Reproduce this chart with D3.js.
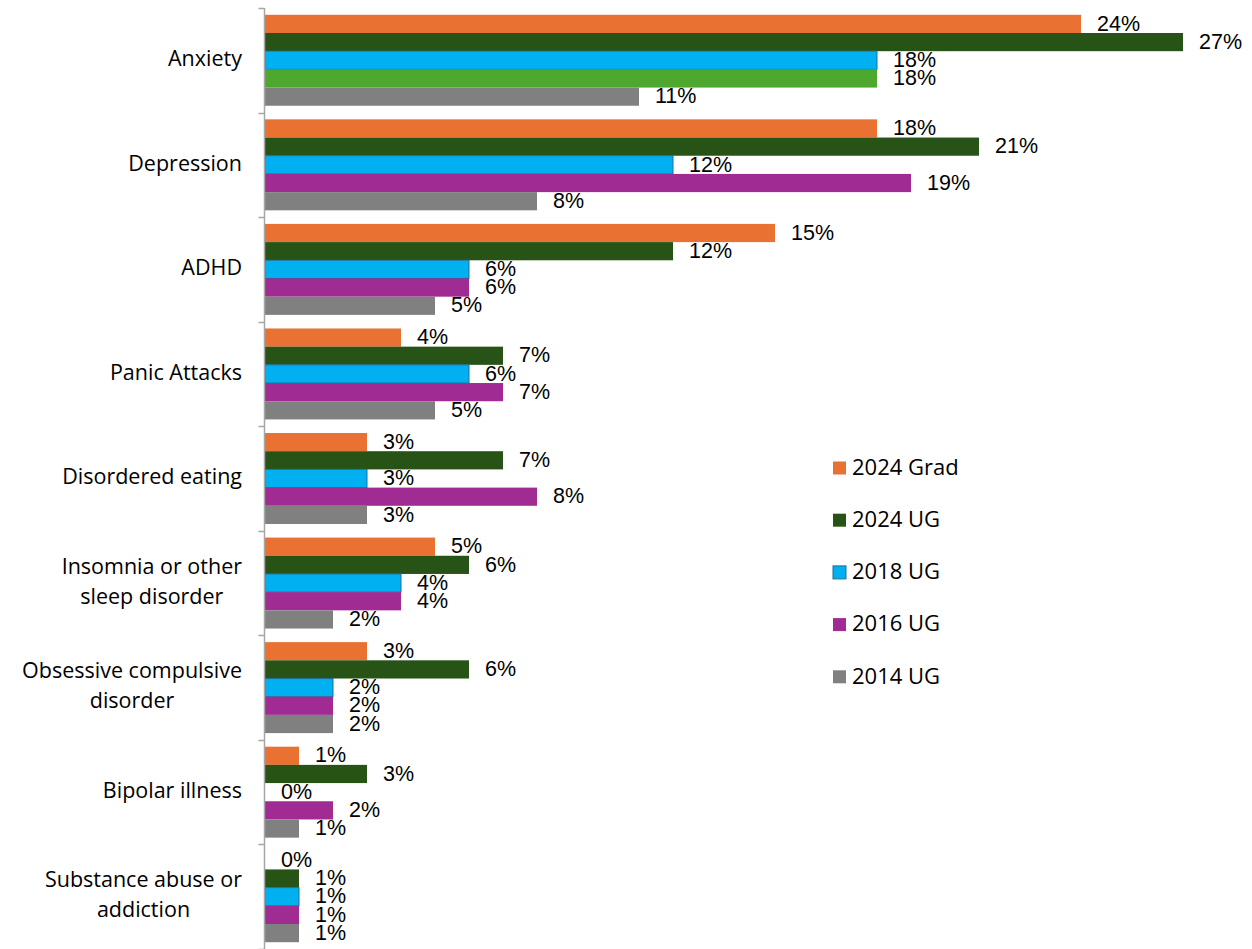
<!DOCTYPE html>
<html>
<head>
<meta charset="utf-8">
<script src="https://cdn.jsdelivr.net/npm/d3@7"></script>
<style>
  html, body { margin: 0; padding: 0; background: #fff; }
  svg { display: block; }
</style>
</head>
<body>
<svg id="chart" width="1252" height="949"></svg>
<script>
// Conditions reported, by survey group (percent)
const categories = [
  ["Anxiety"],
  ["Depression"],
  ["ADHD"],
  ["Panic Attacks"],
  ["Disordered eating"],
  ["Insomnia or other", "sleep disorder"],
  ["Obsessive compulsive", "disorder"],
  ["Bipolar illness"],
  ["Substance abuse or", "addiction"]
];
const seriesNames = ["2024 Grad", "2024 UG", "2018 UG", "2016 UG", "2014 UG"];
const grad2024 = [24, 18, 15, 4, 3, 5, 3, 1, 0];
const ug2024   = [27, 21, 12, 7, 7, 6, 6, 3, 1];
const ug2018   = [18, 12, 6, 6, 3, 4, 2, 0, 1];
const ug2016   = [18, 19, 6, 7, 8, 4, 2, 2, 1];
const ug2014   = [11, 8, 5, 5, 3, 2, 2, 1, 1];
const seriesValues = [grad2024, ug2024, ug2018, ug2016, ug2014];

const colors = ["#E97132", "#275317", "#00B0F0", "#A02B93", "#808080"];
const strokes = [null, null, "#1F6E96", null, null];
// the first 2016 UG bar (Anxiety) is filled in light green
const pointColor = (s, c) => (s === 3 && c === 0) ? "#4EA72E" : colors[s];

const svg = d3.select("#chart");
const axisX = 264.5;
const plotTop = 8, plotBottom = 949;

const y = d3.scaleBand()
  .domain(d3.range(categories.length))
  .range([plotTop, plotBottom])
  .paddingInner(0.13)
  .paddingOuter(0.065);
const band = (plotBottom - plotTop) / categories.length;

const ySeries = d3.scaleBand()
  .domain(d3.range(seriesNames.length))
  .range([0, y.bandwidth()]);

const x = d3.scaleLinear().domain([0, 27]).range([265, 1183]);

// bars
categories.forEach((cat, c) => {
  seriesValues.forEach((vals, s) => {
    const v = vals[c];
    const y0 = y(c) + ySeries(s);
    const h = ySeries.bandwidth();
    if (v > 0) {
      svg.append("rect")
        .attr("x", x(0))
        .attr("y", y0)
        .attr("width", x(v) - x(0))
        .attr("height", h)
        .attr("fill", pointColor(s, c))
        .attr("stroke", strokes[s] || "none")
        .attr("stroke-width", strokes[s] ? 1 : 0);
    }
    svg.append("text")
      .attr("x", x(v) + 16)
      .attr("y", y0 + h / 2 + 1)
      .attr("dominant-baseline", "middle")
      .attr("font-family", "Liberation Sans, Arial, sans-serif")
      .attr("font-size", 21.5)
      .attr("fill", "#000")
      .text(v + "%");
  });
});

// vertical category axis with tick marks between groups
const axisColor = "#A6A6A6";
svg.append("line")
  .attr("x1", axisX).attr("x2", axisX)
  .attr("y1", plotTop).attr("y2", plotBottom)
  .attr("stroke", axisColor).attr("stroke-width", 1.5);
d3.range(categories.length + 1).forEach(i => {
  const ty = Math.round(plotTop + i * band) + 0.5;
  svg.append("line")
    .attr("x1", axisX - 6).attr("x2", axisX)
    .attr("y1", ty).attr("y2", ty)
    .attr("stroke", axisColor).attr("stroke-width", 1.5);
});

// category labels, right-aligned block with centred lines
const labelFont = "Open Sans, sans-serif";
const labelSize = 21.5;
const labelRight = 242;
const measure = svg.append("text")
  .attr("font-family", labelFont).attr("font-size", labelSize)
  .attr("visibility", "hidden");
const textWidth = t => { measure.text(t); return measure.node().getComputedTextLength(); };

categories.forEach((lines, c) => {
  const maxW = d3.max(lines, textWidth);
  const cx = labelRight - maxW / 2;
  const cy = plotTop + (c + 0.5) * band;
  const lh = 30;
  lines.forEach((ln, i) => {
    svg.append("text")
      .attr("x", cx)
      .attr("y", cy + (i - (lines.length - 1) / 2) * lh)
      .attr("text-anchor", "middle")
      .attr("dominant-baseline", "middle")
      .attr("font-family", labelFont)
      .attr("font-size", labelSize)
      .attr("fill", "#000")
      .text(ln);
  });
});
measure.remove();

// legend
const legend = svg.append("g");
seriesNames.forEach((name, s) => {
  const ly = 468 + s * 52.2;
  legend.append("rect")
    .attr("x", 833).attr("y", ly - 6.5)
    .attr("width", 13).attr("height", 13)
    .attr("fill", colors[s])
    .attr("stroke", strokes[s] || "none")
    .attr("stroke-width", strokes[s] ? 1 : 0);
  legend.append("text")
    .attr("x", 852).attr("y", ly + 1)
    .attr("dominant-baseline", "middle")
    .attr("font-family", labelFont)
    .attr("font-size", 22)
    .attr("fill", "#000")
    .text(name);
});
</script>
</body>
</html>
